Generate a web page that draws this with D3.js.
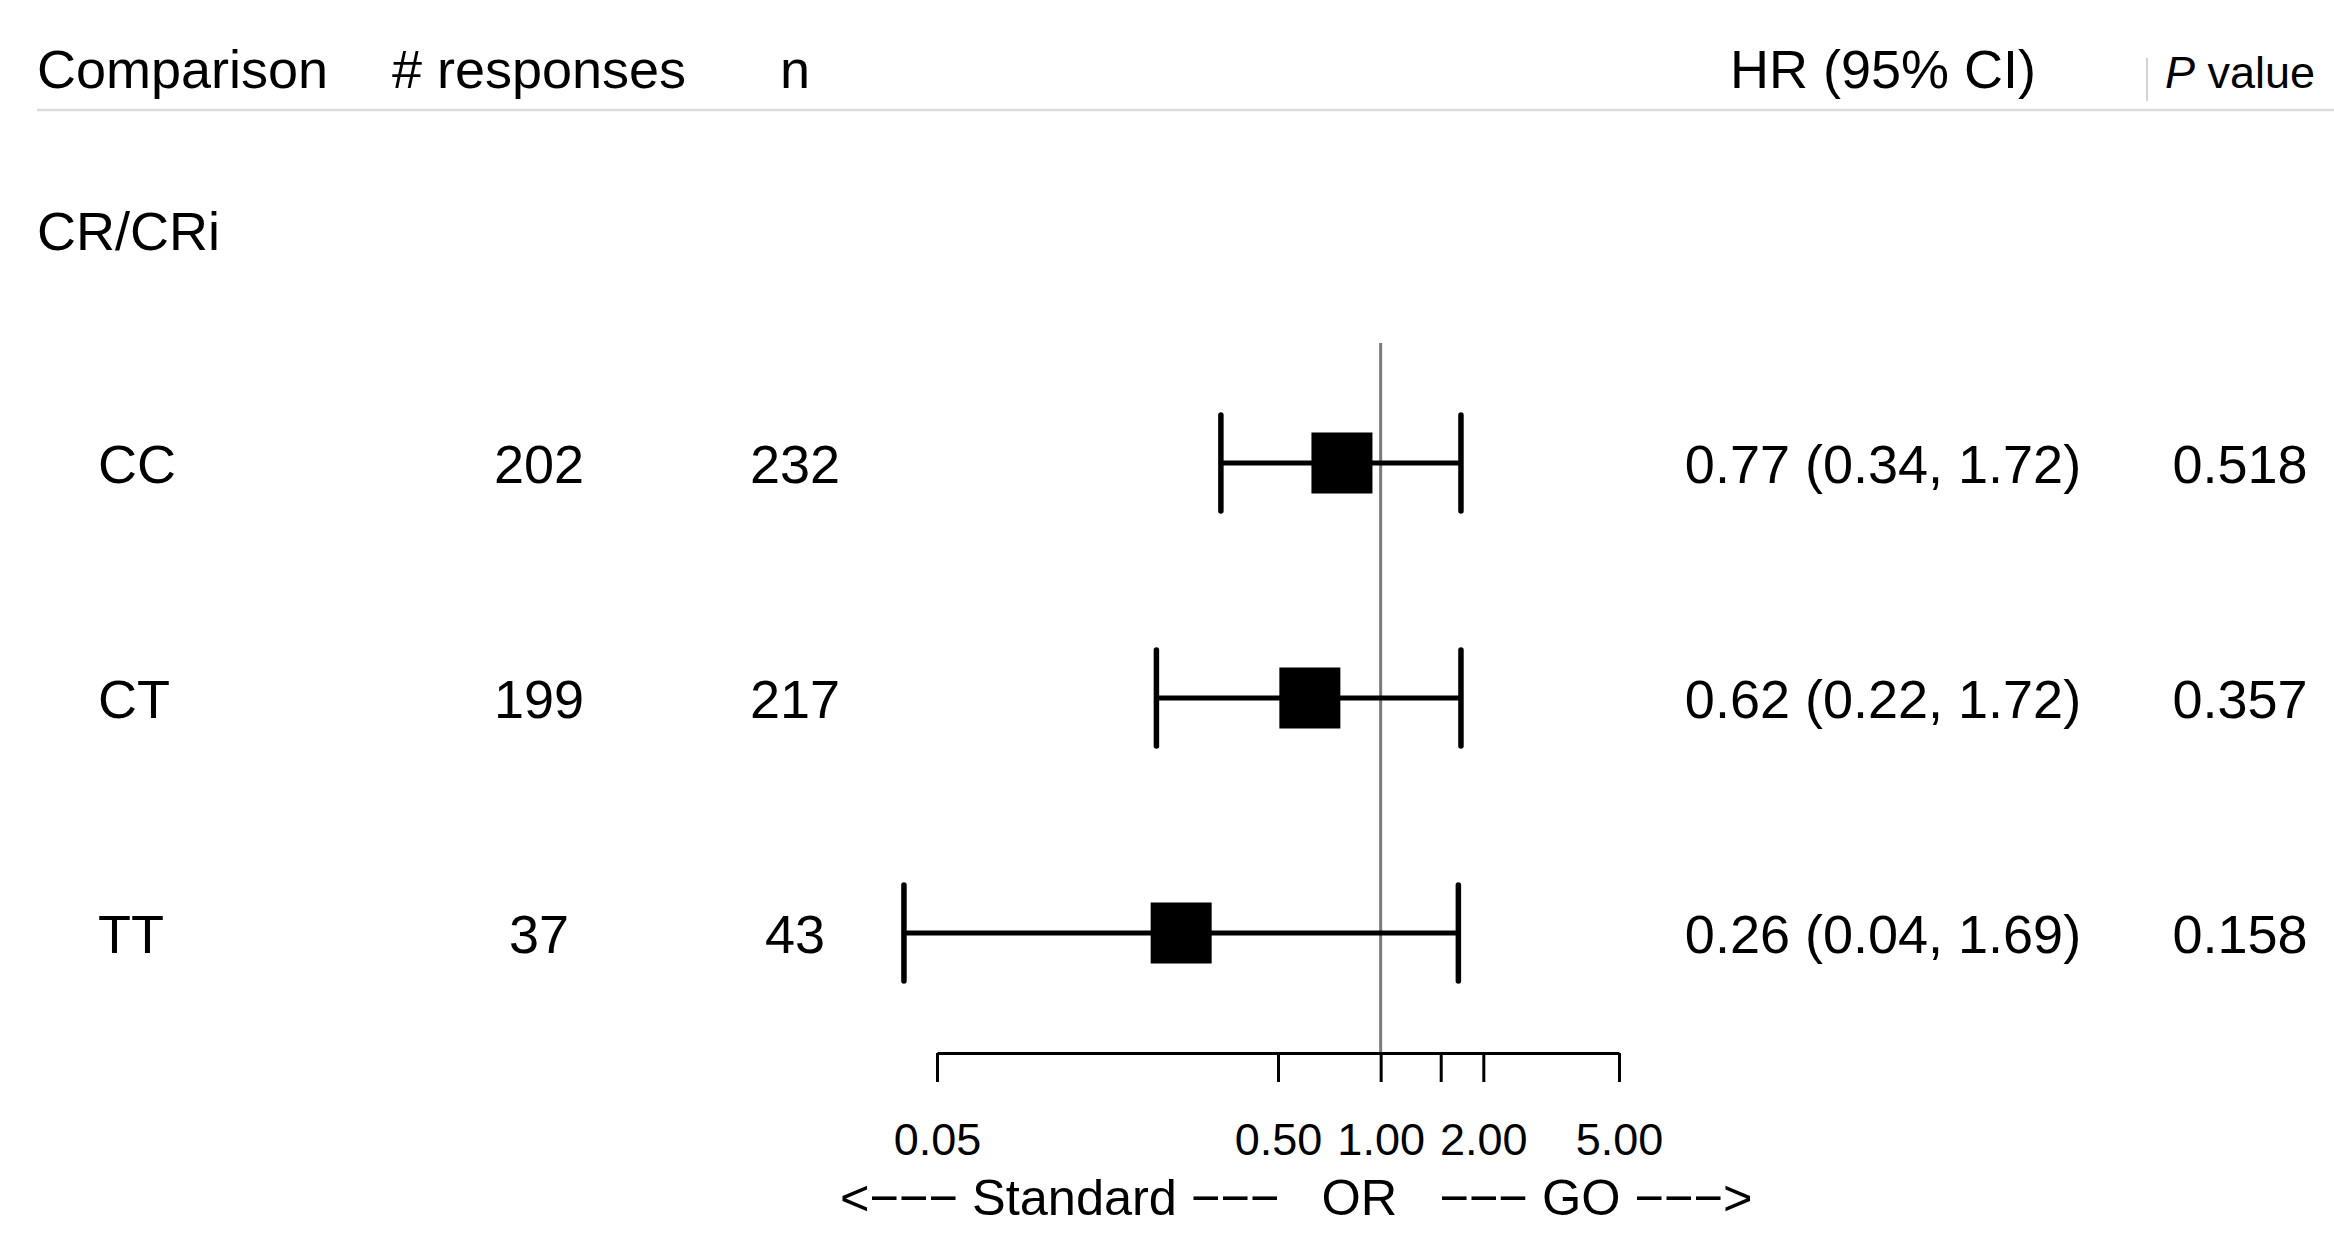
<!DOCTYPE html>
<html>
<head>
<meta charset="utf-8">
<script src="https://cdn.jsdelivr.net/npm/d3@7"></script>
<style>
  body { margin: 0; background: #ffffff; }
  text { font-family: "Liberation Sans", Arial, Helvetica, sans-serif; fill: #000; }
</style>
</head>
<body>
<div id="forest"></div>
<script>
// values
const comparisons = ["CC", "CT", "TT"];
const responses = [202, 199, 37];
const nTotal = [232, 217, 43];
const hr = [0.77, 0.62, 0.26];
const ciLow = [0.34, 0.22, 0.04];
const ciHigh = [1.72, 1.72, 1.69];
const pValues = ["0.518", "0.357", "0.158"];
const groupLabel = "CR/CRi";
const tickValues = [0.05, 0.5, 1, 1.5, 2, 5];
const tickLabels = ["0.05", "0.50", "1.00", "", "2.00", "5.00"];

const WIDTH = 2334;
const HEIGHT = 1243;

const FONT = 54;
const HEADER_Y = 88;
const AXIS_Y = 1053;
const FIRST_ROW = 463;
const LAST_ROW = 933;
const BOX = 61;
const CAP = 48;

// column anchors
const COL_NAME = 98;
const COL_RESP = 539;
const COL_N = 795;
const COL_HR = 1883;
const COL_P = 2240;

const data = comparisons.map((c, i) => ({
  name: c,
  resp: responses[i],
  n: nTotal[i],
  hr: hr[i],
  lo: ciLow[i],
  hi: ciHigh[i],
  p: pValues[i]
}));

function setCanvas() {
  return d3.select("#forest")
    .append("svg")
    .attr("width", WIDTH)
    .attr("height", HEIGHT);
}

function setScales() {
  let xScale = d3.scaleLog().domain([0.05, 5]).range([937, 1619]);
  let yScale = d3.scalePoint().domain(comparisons).range([FIRST_ROW, LAST_ROW]);
  return { xScale: xScale, yScale: yScale };
}

function drawHeader(svg) {
  svg.append("line")
    .attr("x1", 37).attr("x2", WIDTH)
    .attr("y1", 110).attr("y2", 110)
    .attr("stroke", "#dcdcdc").attr("stroke-width", 2.5);
  svg.append("line")
    .attr("x1", 2147).attr("x2", 2147)
    .attr("y1", 58).attr("y2", 101)
    .attr("stroke", "#d4d4d4").attr("stroke-width", 2);

  const h = svg.append("g").style("font-size", FONT + "px");
  h.append("text").attr("x", 37).attr("y", HEADER_Y).text("Comparison");
  h.append("text").attr("x", COL_RESP).attr("y", HEADER_Y).attr("text-anchor", "middle").text("# responses");
  h.append("text").attr("x", COL_N).attr("y", HEADER_Y).attr("text-anchor", "middle").text("n");
  h.append("text").attr("x", COL_HR).attr("y", HEADER_Y).attr("text-anchor", "middle").text("HR (95% CI)");
  // the P value header is set a bit smaller in the original
  let p = h.append("text").attr("x", COL_P).attr("y", HEADER_Y)
    .attr("text-anchor", "middle")
    .style("font-size", "45px");
  p.append("tspan").style("font-style", "italic").text("P");
  p.append("tspan").text(" value");

  svg.append("text")
    .attr("x", 37).attr("y", 250)
    .style("font-size", FONT + "px")
    .text(groupLabel);
}

function drawRowText(svg, scales) {
  const rows = svg.selectAll(".row")
    .data(data)
    .enter()
    .append("g")
    .attr("class", "row")
    .attr("transform", d => "translate(0," + (scales.yScale(d.name) + 20) + ")")
    .style("font-size", FONT + "px");

  rows.append("text").attr("x", COL_NAME).text(d => d.name);
  rows.append("text").attr("x", COL_RESP).attr("text-anchor", "middle").text(d => d.resp);
  rows.append("text").attr("x", COL_N).attr("text-anchor", "middle").text(d => d.n);
  rows.append("text").attr("x", COL_HR).attr("text-anchor", "middle")
    .text(d => d.hr.toFixed(2) + " (" + d.lo.toFixed(2) + ", " + d.hi.toFixed(2) + ")");
  rows.append("text").attr("x", COL_P).attr("text-anchor", "middle").text(d => d.p);
}

function drawReferenceLine(svg, scales) {
  svg.append("line")
    .attr("x1", scales.xScale(1)).attr("x2", scales.xScale(1))
    .attr("y1", 343).attr("y2", AXIS_Y)
    .attr("stroke", "#7a7a7a").attr("stroke-width", 3);
}

function drawIntervals(svg, scales) {
  const g = svg.selectAll(".ci")
    .data(data)
    .enter()
    .append("g")
    .attr("class", "ci");

  g.append("line")
    .attr("x1", d => scales.xScale(d.lo))
    .attr("x2", d => scales.xScale(d.hi))
    .attr("y1", d => scales.yScale(d.name))
    .attr("y2", d => scales.yScale(d.name))
    .attr("stroke", "#000").attr("stroke-width", 5);

  // whisker caps
  ["lo", "hi"].forEach(k => {
    g.append("line")
      .attr("x1", d => scales.xScale(d[k]))
      .attr("x2", d => scales.xScale(d[k]))
      .attr("y1", d => scales.yScale(d.name) - CAP)
      .attr("y2", d => scales.yScale(d.name) + CAP)
      .attr("stroke", "#000").attr("stroke-width", 5.5)
      .attr("stroke-linecap", "round");
  });

  g.append("rect")
    .attr("x", d => scales.xScale(d.hr) - BOX / 2)
    .attr("y", d => scales.yScale(d.name) - BOX / 2)
    .attr("width", BOX)
    .attr("height", BOX)
    .attr("fill", "#000");
}

function drawAxis(svg, scales) {
  let xAxis = d3.axisBottom(scales.xScale)
    .tickValues(tickValues)
    .tickSize(29)
    .tickSizeOuter(0)
    .tickFormat((d, i) => tickLabels[i]);

  const ax = svg.append("g")
    .attr("transform", "translate(0," + AXIS_Y + ")")
    .call(xAxis);

  ax.select(".domain").attr("stroke", "#000").attr("stroke-width", 3);
  ax.selectAll(".tick line").attr("stroke", "#000").attr("stroke-width", 3);
  ax.selectAll(".tick text")
    .attr("y", 102)
    .attr("dy", 0)
    .attr("fill", "#000")
    .style("font-family", "'Liberation Sans', Arial, sans-serif")
    .style("font-size", "45px");

  svg.append("text")
    .attr("x", 840).attr("y", 1215)
    .style("font-size", "50.5px")
    .style("white-space", "pre")
    .attr("xml:space", "preserve")
    .text("<\u2212\u2212\u2212 Standard \u2212\u2212\u2212   OR   \u2212\u2212\u2212 GO \u2212\u2212\u2212>");
}

const svg = setCanvas();
const scales = setScales();
drawHeader(svg);
drawReferenceLine(svg, scales);
drawIntervals(svg, scales);
drawRowText(svg, scales);
drawAxis(svg, scales);
</script>
</body>
</html>
